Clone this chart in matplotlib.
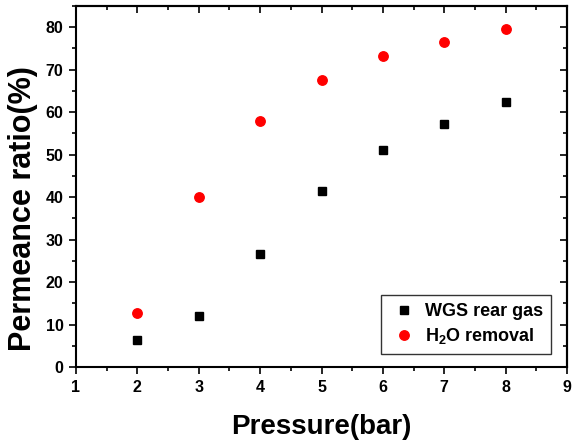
import matplotlib
matplotlib.use("Agg")
import matplotlib.pyplot as plt
from matplotlib.ticker import MultipleLocator

plt.rcParams['font.family'] = ['Liberation Sans', 'DejaVu Sans']
plt.rcParams['font.weight'] = 'bold'
plt.rcParams['mathtext.fontset'] = 'custom'
plt.rcParams['mathtext.rm'] = 'Liberation Sans:bold'
plt.rcParams['mathtext.bf'] = 'Liberation Sans:bold'

pressure = [2, 3, 4, 5, 6, 7, 8]
wgs_rear_gas = [6.3, 12.0, 26.7, 41.4, 51.0, 57.3, 62.5]
h2o_removal = [12.7, 40.0, 58.0, 67.6, 73.2, 76.5, 79.6]

fig = plt.figure(figsize=(5.73, 4.41), dpi=100)
ax = fig.add_axes([76/573, 1 - 367/441, (567 - 76)/573, (367 - 6)/441])

ax.plot(pressure, wgs_rear_gas, linestyle='none', marker='s', color='black',
        markersize=5.8, label='WGS rear gas')
ax.plot(pressure, h2o_removal, linestyle='none', marker='o', color='red',
        markersize=6.8, label=r'H$_{\mathbf{2}}$O removal')

ax.set_xlim(1, 9)
ax.set_ylim(0, 85)
ax.xaxis.set_major_locator(MultipleLocator(1))
ax.xaxis.set_minor_locator(MultipleLocator(0.5))
ax.yaxis.set_major_locator(MultipleLocator(10))
ax.yaxis.set_minor_locator(MultipleLocator(5))

ax.tick_params(axis='both', which='both', direction='out', top=False, right=False,
               width=1.2, labelsize=11.5)
ax.tick_params(which='major', length=5, pad=4)
ax.tick_params(which='minor', length=3)

# inward ticks on top and right
ax2 = ax.secondary_xaxis('top')
ax2.xaxis.set_major_locator(MultipleLocator(1))
ax2.xaxis.set_minor_locator(MultipleLocator(0.5))
ax2.tick_params(which='both', direction='in', labeltop=False, width=1.2)
ax2.tick_params(which='major', length=5)
ax2.tick_params(which='minor', length=3)
ay2 = ax.secondary_yaxis('right')
ay2.yaxis.set_major_locator(MultipleLocator(10))
ay2.yaxis.set_minor_locator(MultipleLocator(5))
ay2.tick_params(which='both', direction='in', labelright=False, width=1.2)
ay2.tick_params(which='major', length=5)
ay2.tick_params(which='minor', length=3)

for s in list(ax.spines.values()) + list(ax2.spines.values()) + list(ay2.spines.values()):
    s.set_linewidth(1.5)

for lbl in ax.get_xticklabels() + ax.get_yticklabels():
    lbl.set_fontweight('bold')

ax.set_xlabel('Pressure(bar)', fontsize=20, fontweight='bold', labelpad=14)
ax.set_ylabel('Permeance ratio(%)', fontsize=22, fontweight='bold')
ax.yaxis.set_label_coords(-0.077, 0.44)

leg = ax.legend(loc='lower right', bbox_to_anchor=(0.9674, 0.036), borderaxespad=0,
                frameon=True, fancybox=False, edgecolor='black',
                prop={'weight': 'bold', 'size': 13}, handletextpad=0.35,
                borderpad=0.45, labelspacing=0.3, handlelength=1.6)
leg.get_frame().set_linewidth(1.0)

fig.savefig('out.png', dpi=100)
